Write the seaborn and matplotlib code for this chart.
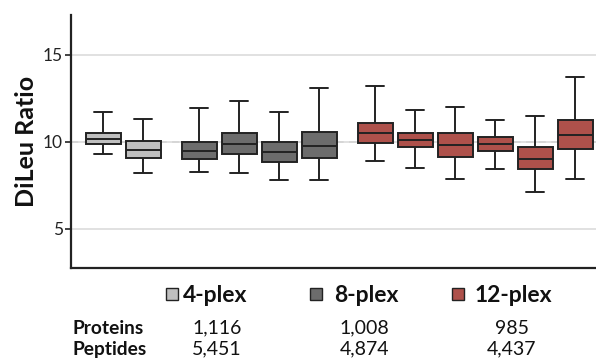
import numpy as np
import pandas as pd
import matplotlib
matplotlib.use("Agg")
import matplotlib.pyplot as plt
from matplotlib.patches import Rectangle
import seaborn as sns

# ---- data ----
plex = ["4-plex"] * 2 + ["8-plex"] * 4 + ["12-plex"] * 6
whisker_low = [9.28, 8.19, 8.28, 8.19, 7.81, 7.79, 8.90, 8.48, 7.86, 8.44, 7.12, 7.85]
q1 = [9.87, 9.05, 9.01, 9.28, 8.84, 9.08, 9.91, 9.70, 9.11, 9.48, 8.40, 9.58]
median = [10.15, 9.51, 9.45, 9.85, 9.39, 9.77, 10.50, 10.11, 9.83, 9.89, 9.01, 10.40]
q3 = [10.52, 10.04, 9.98, 10.50, 9.98, 10.57, 11.09, 10.48, 10.50, 10.25, 9.71, 11.24]
whisker_high = [11.72, 11.28, 11.91, 12.35, 11.68, 13.09, 13.21, 11.83, 11.99, 11.24, 11.45, 13.74]

legend_labels = ["4-plex", "8-plex", "12-plex"]
proteins = ["1,116", "1,008", "985"]
peptides = ["5,451", "4,874", "4,437"]
yticks = [5, 10, 15]

colors = {"4-plex": "#bfbfbf", "8-plex": "#6c6c6c", "12-plex": "#ae514b"}

# ---- build long table (five-number summary per box) ----
group_index = {g: i for i, g in enumerate(legend_labels)}
rows = []
for i, g in enumerate(plex):
    pos = i + 0.4 * group_index[g]
    for v in (whisker_low[i], q1[i], median[i], q3[i], whisker_high[i]):
        rows.append({"pos": pos, "ratio": v, "plex": g})
df = pd.DataFrame(rows)

sns.set_theme(style="white")
plt.rcParams["font.family"] = ["Lato", "DejaVu Sans"]

W, H = 596, 362
fig = plt.figure(figsize=(W / 100, H / 100), dpi=100)
ax = fig.add_axes([71 / W, 1 - 267.7 / H, (W - 71) / W, (267.7 - 15) / H])

ax.yaxis.grid(True, color="#dcdcdc", lw=1.2, zorder=0)
ax.set_axisbelow(True)
ax.axhline(10, ls=(0, (4, 3)), color="#b5b5b5", lw=1.3, zorder=0.5)

sns.boxplot(data=df, x="pos", y="ratio", hue="plex", native_scale=True,
            dodge=False, whis=np.inf, width=0.875, palette=colors,
            hue_order=legend_labels, linecolor="#222222", linewidth=1.4,
            saturation=1, legend=False, ax=ax)

ax.set_ylim(2.75, 17.28)
ax.set_xlim(-0.8, 12.325)
ax.set_yticks(yticks)
ax.set_yticklabels([str(t) for t in yticks], fontsize=12.5, color="#222222")
ax.set_xticks([])
ax.set_xlabel("")
ax.set_ylabel("DiLeu Ratio", fontsize=18, fontweight="bold", color="#111111")
ax.yaxis.set_label_coords(-0.063, 0.5)
ax.tick_params(axis="y", direction="out", length=4, width=1.2, color="#222222", pad=2, left=True)
for s in ("top", "right"):
    ax.spines[s].set_visible(False)
for s in ("left", "bottom"):
    ax.spines[s].set_color("#222222")
    ax.spines[s].set_linewidth(1.6)

# ---- legend and table below the plot ----
sq_x = [166, 310, 452]
txt_x = [183, 334, 475]
val_x = [217, 364.5, 512]
for lab, sx, tx in zip(legend_labels, sq_x, txt_x):
    fig.patches.append(Rectangle((sx / W, 1 - 299.5 / H), 11.5 / W, 11.5 / H,
                                 transform=fig.transFigure, facecolor=colors[lab],
                                 edgecolor="#222222", lw=1.0))
    fig.text(tx / W, 1 - 295 / H, lab, fontsize=16.5, fontweight="bold",
             color="#111111", va="center", ha="left")

fig.text(73 / W, 1 - 328 / H, "Proteins", fontsize=13.8, fontweight="bold",
         color="#111111", va="center", ha="left")
fig.text(73 / W, 1 - 349 / H, "Peptides", fontsize=13.8, fontweight="bold",
         color="#111111", va="center", ha="left")
for vx, p, q in zip(val_x, proteins, peptides):
    fig.text(vx / W, 1 - 328 / H, p, fontsize=14, color="#111111", va="center", ha="center")
    fig.text(vx / W, 1 - 349 / H, q, fontsize=14, color="#111111", va="center", ha="center")

fig.savefig("out.png", dpi=100)
